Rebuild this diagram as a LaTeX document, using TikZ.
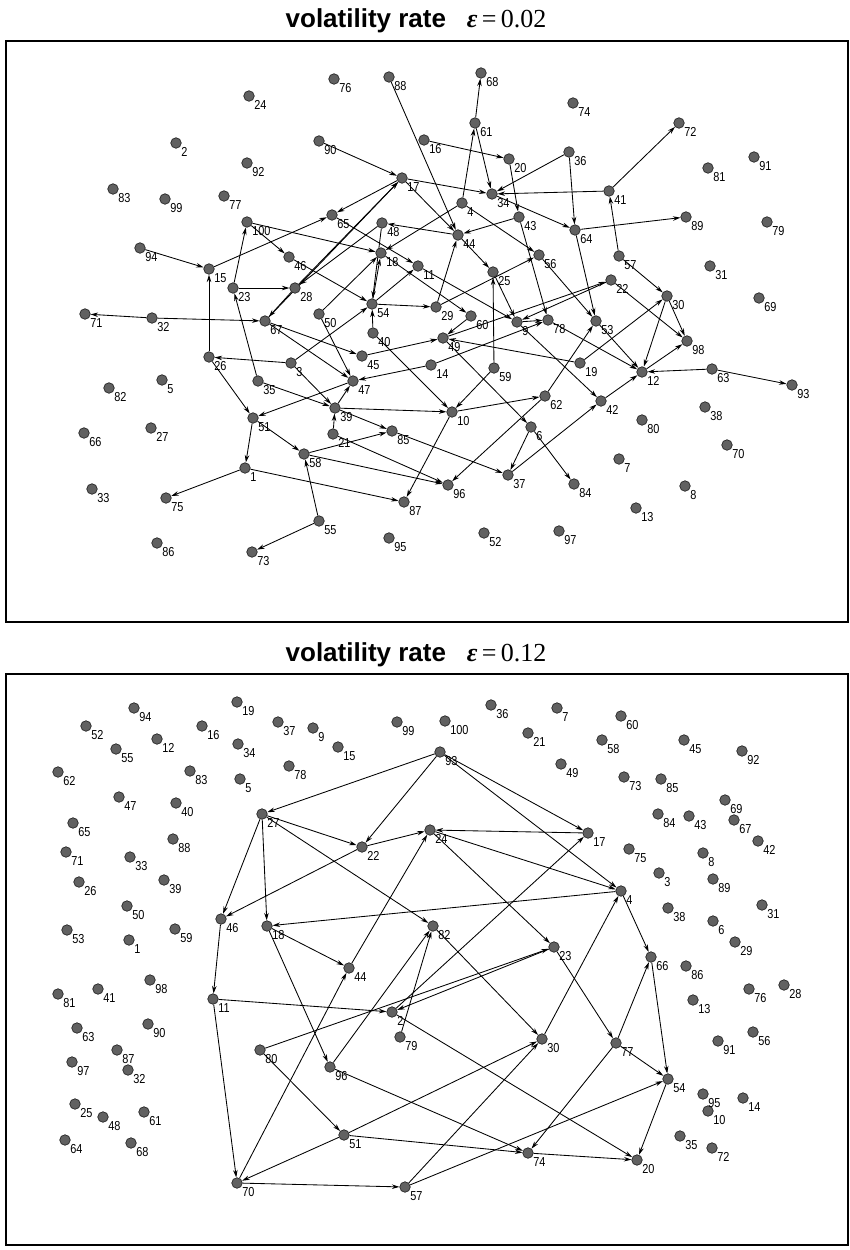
\documentclass[tikz,border=0pt]{standalone}
\usepackage{fontspec}
\setmainfont{Liberation Sans}
\newfontfamily\titleserif{Liberation Serif}
\newfontfamily\lblfont[FakeStretch=0.84]{Liberation Sans}
\usetikzlibrary{arrows.meta}

\tikzset{
    DOT/.style={shape=circle, draw=black!85, fill=black!62, inner sep=0mm,
        minimum size=10.5pt, line width=0.7pt, label distance=-2pt},
    every label/.style={font=\lblfont\fontsize{13}{13}\selectfont, inner sep=0.8pt},
    EDGE/.style={draw=black, line width=0.85pt,
        -{Stealth[length=7.5pt, width=4.5pt]}},
    FRAME/.style={draw=black, line width=2.7pt},
    TITLE/.style={font=\fontsize{26}{26}\selectfont\bfseries, inner sep=0pt}
}
\newcommand{\epstitle}[1]{volatility rate\hspace{0.8em}{\titleserif\bfseries\itshape ε}{\titleserif\mdseries\,=\,#1}}
\pgfdeclarelayer{edgelayer}
\pgfdeclarelayer{nodelayer}
\pgfsetlayers{edgelayer,nodelayer,main}

\begin{document}
\begin{tikzpicture}[x=1pt, y=-1pt]
    \useasboundingbox (0, 0) rectangle (850, 1250);
    % frames and titles
    \draw[FRAME] (6, 41) rectangle (848, 622);
    \draw[FRAME] (6, 674) rectangle (848, 1245);
    \node [TITLE] (title1) at (416, 21) {\epstitle{0.02}};
    \node [TITLE] (title2) at (416, 655) {\epstitle{0.12}};

    \begin{pgfonlayer}{nodelayer}
        % epsilon = 0.02
        \node [DOT, label=-40:1] (t1) at (245, 468) {};
        \node [DOT, label=-40:2] (t2) at (176, 143) {};
        \node [DOT, label=-40:3] (t3) at (291, 363) {};
        \node [DOT, label=-40:4] (t4) at (462, 203) {};
        \node [DOT, label=-40:5] (t5) at (162, 380) {};
        \node [DOT, label=-40:6] (t6) at (531, 427) {};
        \node [DOT, label=-40:7] (t7) at (619, 459) {};
        \node [DOT, label=-40:8] (t8) at (685, 486) {};
        \node [DOT, label=-40:9] (t9) at (517, 322) {};
        \node [DOT, label=-40:10] (t10) at (452, 412) {};
        \node [DOT, label=-40:11] (t11) at (418, 266) {};
        \node [DOT, label=-40:12] (t12) at (642, 372) {};
        \node [DOT, label=-40:13] (t13) at (636, 508) {};
        \node [DOT, label=-40:14] (t14) at (431, 365) {};
        \node [DOT, label=-40:15] (t15) at (209, 269) {};
        \node [DOT, label=-40:16] (t16) at (424, 140) {};
        \node [DOT, label=-40:17] (t17) at (402, 178) {};
        \node [DOT, label=-40:18] (t18) at (381, 253) {};
        \node [DOT, label=-40:19] (t19) at (580, 363) {};
        \node [DOT, label=-40:20] (t20) at (509, 159) {};
        \node [DOT, label=-40:21] (t21) at (333, 434) {};
        \node [DOT, label=-40:22] (t22) at (611, 280) {};
        \node [DOT, label=-40:23] (t23) at (233, 288) {};
        \node [DOT, label=-40:24] (t24) at (249, 96) {};
        \node [DOT, label=-40:25] (t25) at (493, 272) {};
        \node [DOT, label=-40:26] (t26) at (209, 357) {};
        \node [DOT, label=-40:27] (t27) at (151, 428) {};
        \node [DOT, label=-40:28] (t28) at (295, 288) {};
        \node [DOT, label=-40:29] (t29) at (436, 307) {};
        \node [DOT, label=-40:30] (t30) at (667, 296) {};
        \node [DOT, label=-40:31] (t31) at (710, 266) {};
        \node [DOT, label=-40:32] (t32) at (152, 318) {};
        \node [DOT, label=-40:33] (t33) at (92, 489) {};
        \node [DOT, label=-40:34] (t34) at (492, 194) {};
        \node [DOT, label=-40:35] (t35) at (258, 381) {};
        \node [DOT, label=-40:36] (t36) at (569, 152) {};
        \node [DOT, label=-40:37] (t37) at (508, 475) {};
        \node [DOT, label=-40:38] (t38) at (705, 407) {};
        \node [DOT, label=-40:39] (t39) at (335, 408) {};
        \node [DOT, label=-40:40] (t40) at (373, 333) {};
        \node [DOT, label=-40:41] (t41) at (609, 191) {};
        \node [DOT, label=-40:42] (t42) at (601, 401) {};
        \node [DOT, label=-40:43] (t43) at (519, 217) {};
        \node [DOT, label=-40:44] (t44) at (458, 235) {};
        \node [DOT, label=-40:45] (t45) at (362, 356) {};
        \node [DOT, label=-40:46] (t46) at (289, 257) {};
        \node [DOT, label=-40:47] (t47) at (353, 381) {};
        \node [DOT, label=-40:48] (t48) at (382, 223) {};
        \node [DOT, label=-40:49] (t49) at (443, 338) {};
        \node [DOT, label=-40:50] (t50) at (319, 314) {};
        \node [DOT, label=-40:51] (t51) at (253, 418) {};
        \node [DOT, label=-40:52] (t52) at (484, 533) {};
        \node [DOT, label=-40:53] (t53) at (596, 321) {};
        \node [DOT, label=-40:54] (t54) at (372, 304) {};
        \node [DOT, label=-40:55] (t55) at (319, 521) {};
        \node [DOT, label=-40:56] (t56) at (539, 255) {};
        \node [DOT, label=-40:57] (t57) at (619, 256) {};
        \node [DOT, label=-40:58] (t58) at (304, 454) {};
        \node [DOT, label=-40:59] (t59) at (494, 368) {};
        \node [DOT, label=-40:60] (t60) at (471, 316) {};
        \node [DOT, label=-40:61] (t61) at (475, 123) {};
        \node [DOT, label=-40:62] (t62) at (545, 396) {};
        \node [DOT, label=-40:63] (t63) at (712, 369) {};
        \node [DOT, label=-40:64] (t64) at (575, 230) {};
        \node [DOT, label=-40:65] (t65) at (332, 215) {};
        \node [DOT, label=-40:66] (t66) at (84, 433) {};
        \node [DOT, label=-40:67] (t67) at (265, 321) {};
        \node [DOT, label=-40:68] (t68) at (481, 73) {};
        \node [DOT, label=-40:69] (t69) at (759, 298) {};
        \node [DOT, label=-40:70] (t70) at (727, 445) {};
        \node [DOT, label=-40:71] (t71) at (85, 314) {};
        \node [DOT, label=-40:72] (t72) at (679, 123) {};
        \node [DOT, label=-40:73] (t73) at (252, 552) {};
        \node [DOT, label=-40:74] (t74) at (573, 103) {};
        \node [DOT, label=-40:75] (t75) at (166, 498) {};
        \node [DOT, label=-40:76] (t76) at (334, 79) {};
        \node [DOT, label=-40:77] (t77) at (224, 196) {};
        \node [DOT, label=-40:78] (t78) at (548, 320) {};
        \node [DOT, label=-40:79] (t79) at (767, 222) {};
        \node [DOT, label=-40:80] (t80) at (642, 420) {};
        \node [DOT, label=-40:81] (t81) at (708, 168) {};
        \node [DOT, label=-40:82] (t82) at (109, 388) {};
        \node [DOT, label=-40:83] (t83) at (113, 189) {};
        \node [DOT, label=-40:84] (t84) at (574, 484) {};
        \node [DOT, label=-40:85] (t85) at (392, 431) {};
        \node [DOT, label=-40:86] (t86) at (157, 543) {};
        \node [DOT, label=-40:87] (t87) at (404, 502) {};
        \node [DOT, label=-40:88] (t88) at (389, 77) {};
        \node [DOT, label=-40:89] (t89) at (686, 217) {};
        \node [DOT, label=-40:90] (t90) at (319, 141) {};
        \node [DOT, label=-40:91] (t91) at (754, 157) {};
        \node [DOT, label=-40:92] (t92) at (247, 163) {};
        \node [DOT, label=-40:93] (t93) at (792, 385) {};
        \node [DOT, label=-40:94] (t94) at (140, 248) {};
        \node [DOT, label=-40:95] (t95) at (389, 538) {};
        \node [DOT, label=-40:96] (t96) at (448, 485) {};
        \node [DOT, label=-40:97] (t97) at (559, 531) {};
        \node [DOT, label=-40:98] (t98) at (687, 341) {};
        \node [DOT, label=-40:99] (t99) at (165, 199) {};
        \node [DOT, label=-40:100] (t100) at (247, 222) {};
        % epsilon = 0.12
        \node [DOT, label=-40:1] (b1) at (129, 940) {};
        \node [DOT, label=-40:2] (b2) at (392, 1012) {};
        \node [DOT, label=-40:3] (b3) at (659, 873) {};
        \node [DOT, label=-40:4] (b4) at (621, 891) {};
        \node [DOT, label=-40:5] (b5) at (240, 779) {};
        \node [DOT, label=-40:6] (b6) at (713, 921) {};
        \node [DOT, label=-40:7] (b7) at (557, 708) {};
        \node [DOT, label=-40:8] (b8) at (703, 853) {};
        \node [DOT, label=-40:9] (b9) at (313, 728) {};
        \node [DOT, label=-40:10] (b10) at (708, 1111) {};
        \node [DOT, label=-40:11] (b11) at (213, 999) {};
        \node [DOT, label=-40:12] (b12) at (157, 739) {};
        \node [DOT, label=-40:13] (b13) at (693, 1000) {};
        \node [DOT, label=-40:14] (b14) at (743, 1098) {};
        \node [DOT, label=-40:15] (b15) at (338, 747) {};
        \node [DOT, label=-40:16] (b16) at (202, 726) {};
        \node [DOT, label=-40:17] (b17) at (588, 833) {};
        \node [DOT, label=-40:18] (b18) at (267, 926) {};
        \node [DOT, label=-40:19] (b19) at (237, 702) {};
        \node [DOT, label=-40:20] (b20) at (637, 1160) {};
        \node [DOT, label=-40:21] (b21) at (528, 733) {};
        \node [DOT, label=-40:22] (b22) at (362, 847) {};
        \node [DOT, label=-40:23] (b23) at (554, 947) {};
        \node [DOT, label=-40:24] (b24) at (430, 830) {};
        \node [DOT, label=-40:25] (b25) at (75, 1104) {};
        \node [DOT, label=-40:26] (b26) at (79, 882) {};
        \node [DOT, label=-40:27] (b27) at (262, 814) {};
        \node [DOT, label=-40:28] (b28) at (784, 985) {};
        \node [DOT, label=-40:29] (b29) at (735, 942) {};
        \node [DOT, label=-40:30] (b30) at (542, 1039) {};
        \node [DOT, label=-40:31] (b31) at (762, 905) {};
        \node [DOT, label=-40:32] (b32) at (128, 1070) {};
        \node [DOT, label=-40:33] (b33) at (130, 857) {};
        \node [DOT, label=-40:34] (b34) at (238, 744) {};
        \node [DOT, label=-40:35] (b35) at (680, 1136) {};
        \node [DOT, label=-40:36] (b36) at (491, 705) {};
        \node [DOT, label=-40:37] (b37) at (278, 722) {};
        \node [DOT, label=-40:38] (b38) at (668, 908) {};
        \node [DOT, label=-40:39] (b39) at (164, 880) {};
        \node [DOT, label=-40:40] (b40) at (176, 803) {};
        \node [DOT, label=-40:41] (b41) at (98, 989) {};
        \node [DOT, label=-40:42] (b42) at (758, 841) {};
        \node [DOT, label=-40:43] (b43) at (689, 816) {};
        \node [DOT, label=-40:44] (b44) at (349, 968) {};
        \node [DOT, label=-40:45] (b45) at (684, 740) {};
        \node [DOT, label=-40:46] (b46) at (221, 919) {};
        \node [DOT, label=-40:47] (b47) at (119, 797) {};
        \node [DOT, label=-40:48] (b48) at (103, 1117) {};
        \node [DOT, label=-40:49] (b49) at (561, 764) {};
        \node [DOT, label=-40:50] (b50) at (127, 906) {};
        \node [DOT, label=-40:51] (b51) at (344, 1135) {};
        \node [DOT, label=-40:52] (b52) at (86, 726) {};
        \node [DOT, label=-40:53] (b53) at (67, 930) {};
        \node [DOT, label=-40:54] (b54) at (668, 1079) {};
        \node [DOT, label=-40:55] (b55) at (116, 749) {};
        \node [DOT, label=-40:56] (b56) at (753, 1032) {};
        \node [DOT, label=-40:57] (b57) at (405, 1187) {};
        \node [DOT, label=-40:58] (b58) at (602, 740) {};
        \node [DOT, label=-40:59] (b59) at (175, 929) {};
        \node [DOT, label=-40:60] (b60) at (621, 716) {};
        \node [DOT, label=-40:61] (b61) at (144, 1112) {};
        \node [DOT, label=-40:62] (b62) at (58, 772) {};
        \node [DOT, label=-40:63] (b63) at (77, 1028) {};
        \node [DOT, label=-40:64] (b64) at (65, 1140) {};
        \node [DOT, label=-40:65] (b65) at (73, 823) {};
        \node [DOT, label=-40:66] (b66) at (651, 957) {};
        \node [DOT, label=-40:67] (b67) at (734, 820) {};
        \node [DOT, label=-40:68] (b68) at (131, 1143) {};
        \node [DOT, label=-40:69] (b69) at (725, 800) {};
        \node [DOT, label=-40:70] (b70) at (237, 1183) {};
        \node [DOT, label=-40:71] (b71) at (66, 852) {};
        \node [DOT, label=-40:72] (b72) at (712, 1148) {};
        \node [DOT, label=-40:73] (b73) at (624, 777) {};
        \node [DOT, label=-40:74] (b74) at (528, 1153) {};
        \node [DOT, label=-40:75] (b75) at (629, 849) {};
        \node [DOT, label=-40:76] (b76) at (749, 989) {};
        \node [DOT, label=-40:77] (b77) at (616, 1043) {};
        \node [DOT, label=-40:78] (b78) at (289, 766) {};
        \node [DOT, label=-40:79] (b79) at (400, 1037) {};
        \node [DOT, label=-40:80] (b80) at (260, 1050) {};
        \node [DOT, label=-40:81] (b81) at (58, 994) {};
        \node [DOT, label=-40:82] (b82) at (433, 926) {};
        \node [DOT, label=-40:83] (b83) at (190, 771) {};
        \node [DOT, label=-40:84] (b84) at (658, 814) {};
        \node [DOT, label=-40:85] (b85) at (661, 779) {};
        \node [DOT, label=-40:86] (b86) at (686, 966) {};
        \node [DOT, label=-40:87] (b87) at (117, 1050) {};
        \node [DOT, label=-40:88] (b88) at (173, 839) {};
        \node [DOT, label=-40:89] (b89) at (713, 879) {};
        \node [DOT, label=-40:90] (b90) at (148, 1024) {};
        \node [DOT, label=-40:91] (b91) at (718, 1041) {};
        \node [DOT, label=-40:92] (b92) at (742, 751) {};
        \node [DOT, label=-40:93] (b93) at (440, 752) {};
        \node [DOT, label=-40:94] (b94) at (134, 708) {};
        \node [DOT, label=-40:95] (b95) at (703, 1094) {};
        \node [DOT, label=-40:96] (b96) at (330, 1067) {};
        \node [DOT, label=-40:97] (b97) at (72, 1062) {};
        \node [DOT, label=-40:98] (b98) at (150, 980) {};
        \node [DOT, label=-40:99] (b99) at (397, 722) {};
        \node [DOT, label=-40:100] (b100) at (445, 721) {};
    \end{pgfonlayer}

    \begin{pgfonlayer}{edgelayer}
        % epsilon = 0.02
        \draw[EDGE] (t94) to (t15);
        \draw[EDGE] (t15) to (t65);
        \draw[EDGE] (t26) to (t15);
        \draw[EDGE] (t32) to (t71);
        \draw[EDGE] (t32) to (t67);
        \draw[EDGE] (t23) to (t100);
        \draw[EDGE] (t23) to (t28);
        \draw[EDGE] (t35) to (t23);
        \draw[EDGE] (t100) to (t46);
        \draw[EDGE] (t46) to (t54);
        \draw[EDGE] (t100) to (t18);
        \draw[EDGE] (t90) to (t17);
        \draw[EDGE] (t17) to (t65);
        \draw[EDGE] (t28) to (t17);
        \draw[EDGE] (t67) to (t17);
        \draw[EDGE] (t28) to (t67);
        \draw[EDGE] (t48) to (t28);
        \draw[EDGE] (t67) to (t47);
        \draw[EDGE] (t67) to (t45);
        \draw[EDGE] (t45) to (t49);
        \draw[EDGE] (t3) to (t26);
        \draw[EDGE] (t26) to (t51);
        \draw[EDGE] (t3) to (t54);
        \draw[EDGE] (t3) to (t39);
        \draw[EDGE] (t50) to (t47);
        \draw[EDGE] (t50) to (t18);
        \draw[EDGE] (t35) to (t39);
        \draw[EDGE] (t39) to (t10);
        \draw[EDGE] (t14) to (t47);
        \draw[EDGE] (t47) to (t51);
        \draw[EDGE] (t39) to (t47);
        \draw[EDGE] (t39) to (t85);
        \draw[EDGE] (t58) to (t85);
        \draw[EDGE] (t85) to (t37);
        \draw[EDGE] (t21) to (t39);
        \draw[EDGE] (t21) to (t96);
        \draw[EDGE] (t58) to (t96);
        \draw[EDGE] (t1) to (t87);
        \draw[EDGE] (t51) to (t58);
        \draw[EDGE] (t51) to (t1);
        \draw[EDGE] (t1) to (t75);
        \draw[EDGE] (t55) to (t73);
        \draw[EDGE] (t55) to (t58);
        \draw[EDGE] (t10) to (t62);
        \draw[EDGE] (t10) to (t87);
        \draw[EDGE] (t59) to (t10);
        \draw[EDGE] (t40) to (t10);
        \draw[EDGE] (t59) to (t25);
        \draw[EDGE] (t49) to (t6);
        \draw[EDGE] (t6) to (t37);
        \draw[EDGE] (t6) to (t84);
        \draw[EDGE] (t37) to (t42);
        \draw[EDGE] (t62) to (t53);
        \draw[EDGE] (t62) to (t96);
        \draw[EDGE] (t19) to (t49);
        \draw[EDGE] (t19) to (t30);
        \draw[EDGE] (t42) to (t12);
        \draw[EDGE] (t63) to (t12);
        \draw[EDGE] (t63) to (t93);
        \draw[EDGE] (t12) to (t98);
        \draw[EDGE] (t30) to (t12);
        \draw[EDGE] (t30) to (t98);
        \draw[EDGE] (t22) to (t98);
        \draw[EDGE] (t53) to (t12);
        \draw[EDGE] (t78) to (t12);
        \draw[EDGE] (t57) to (t30);
        \draw[EDGE] (t41) to (t72);
        \draw[EDGE] (t57) to (t41);
        \draw[EDGE] (t17) to (t34);
        \draw[EDGE] (t41) to (t34);
        \draw[EDGE] (t36) to (t34);
        \draw[EDGE] (t36) to (t64);
        \draw[EDGE] (t61) to (t34);
        \draw[EDGE] (t61) to (t68);
        \draw[EDGE] (t4) to (t61);
        \draw[EDGE] (t64) to (t89);
        \draw[EDGE] (t64) to (t53);
        \draw[EDGE] (t34) to (t64);
        \draw[EDGE] (t16) to (t20);
        \draw[EDGE] (t20) to (t43);
        \draw[EDGE] (t43) to (t78);
        \draw[EDGE] (t88) to (t44);
        \draw[EDGE] (t43) to (t44);
        \draw[EDGE] (t44) to (t48);
        \draw[EDGE] (t17) to (t44);
        \draw[EDGE] (t44) to (t25);
        \draw[EDGE] (t25) to (t9);
        \draw[EDGE] (t29) to (t44);
        \draw[EDGE] (t54) to (t29);
        \draw[EDGE] (t40) to (t54);
        \draw[EDGE] (t48) to (t54);
        \draw[EDGE] (t54) to (t18);
        \draw[EDGE] (t65) to (t11);
        \draw[EDGE] (t18) to (t60);
        \draw[EDGE] (t11) to (t9);
        \draw[EDGE] (t54) to (t11);
        \draw[EDGE] (t4) to (t18);
        \draw[EDGE] (t4) to (t56);
        \draw[EDGE] (t56) to (t53);
        \draw[EDGE] (t29) to (t56);
        \draw[EDGE] (t9) to (t78);
        \draw[EDGE] (t9) to (t42);
        \draw[EDGE] (t14) to (t78);
        \draw[EDGE] (t49) to (t22);
        \draw[EDGE] (t22) to (t9);
        \draw[EDGE] (t60) to (t49);
        % epsilon = 0.12
        \draw[EDGE] (b93) to (b27);
        \draw[EDGE] (b93) to (b22);
        \draw[EDGE] (b93) to (b17);
        \draw[EDGE] (b93) to (b4);
        \draw[EDGE] (b27) to (b22);
        \draw[EDGE] (b22) to (b24);
        \draw[EDGE] (b17) to (b24);
        \draw[EDGE] (b24) to (b4);
        \draw[EDGE] (b24) to (b23);
        \draw[EDGE] (b27) to (b46);
        \draw[EDGE] (b22) to (b46);
        \draw[EDGE] (b27) to (b18);
        \draw[EDGE] (b27) to (b82);
        \draw[EDGE] (b82) to (b30);
        \draw[EDGE] (b18) to (b44);
        \draw[EDGE] (b18) to (b96);
        \draw[EDGE] (b4) to (b18);
        \draw[EDGE] (b46) to (b11);
        \draw[EDGE] (b11) to (b2);
        \draw[EDGE] (b11) to (b70);
        \draw[EDGE] (b70) to (b44);
        \draw[EDGE] (b44) to (b24);
        \draw[EDGE] (b80) to (b23);
        \draw[EDGE] (b79) to (b82);
        \draw[EDGE] (b96) to (b82);
        \draw[EDGE] (b96) to (b74);
        \draw[EDGE] (b51) to (b70);
        \draw[EDGE] (b51) to (b74);
        \draw[EDGE] (b51) to (b30);
        \draw[EDGE] (b57) to (b30);
        \draw[EDGE] (b57) to (b54);
        \draw[EDGE] (b70) to (b57);
        \draw[EDGE] (b74) to (b20);
        \draw[EDGE] (b77) to (b74);
        \draw[EDGE] (b77) to (b54);
        \draw[EDGE] (b77) to (b66);
        \draw[EDGE] (b23) to (b77);
        \draw[EDGE] (b30) to (b4);
        \draw[EDGE] (b4) to (b66);
        \draw[EDGE] (b66) to (b54);
        \draw[EDGE] (b54) to (b20);
        \draw[EDGE] (b2) to (b20);
        \draw[EDGE] (b2) to (b17);
        \draw[EDGE] (b23) to (b2);
        \draw[EDGE] (b80) to (b51);
    \end{pgfonlayer}
\end{tikzpicture}
\end{document}
